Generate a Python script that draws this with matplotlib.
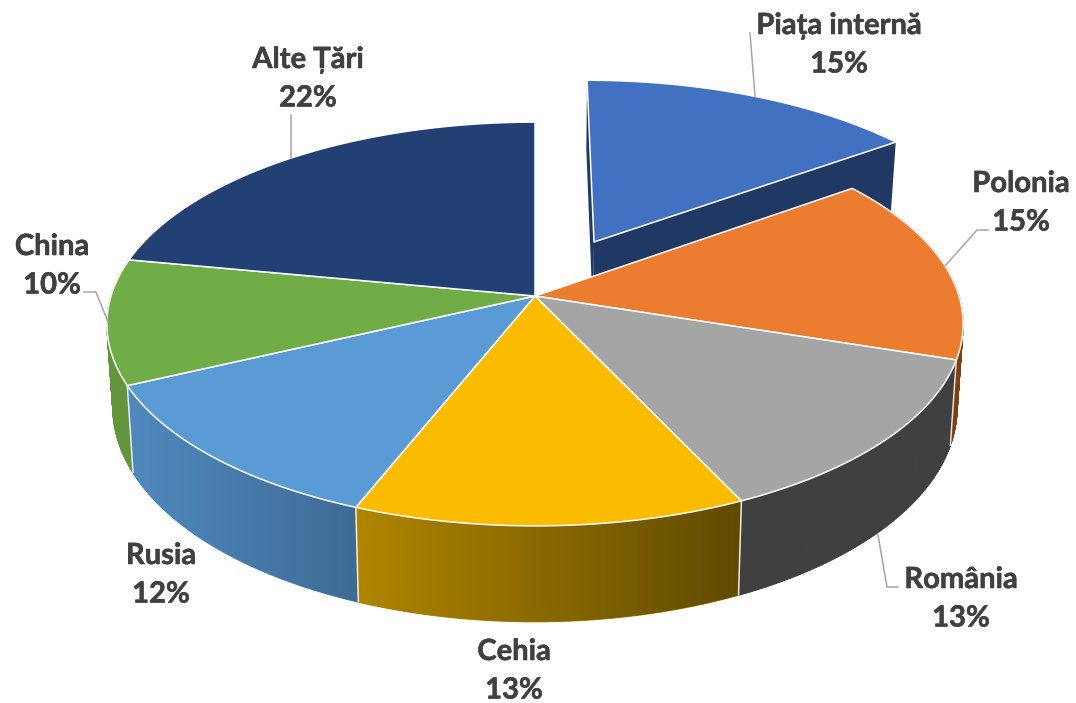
import numpy as np
import matplotlib
matplotlib.use("Agg")
import matplotlib.pyplot as plt
import matplotlib.patheffects as pe
from matplotlib.colors import to_rgb
from matplotlib.patches import Polygon

# data
names = ["Piața internă", "Polonia", "România", "Cehia", "Rusia", "China", "Alte Țări"]
shares = [15, 15, 13, 13, 12, 10, 22]
top_colors = ["#4371C2", "#EB7C30", "#A5A5A5", "#FBBC00", "#5B9BD5", "#70AD47", "#234075"]
# wall colour, left and right end of the gradient
wall_left = ["#203864", "#7F3F0E", "#404040", "#B08600", "#5089BE", "#63953C", "#1C3358"]
wall_right = ["#203864", "#7F3F0E", "#404040", "#5F4A00", "#3E6B95", "#63953C", "#1C3358"]

# layout, in pixels of the 1076x703 picture
label_pos = [(839, 26), (1021, 184), (961, 580), (514, 652), (161, 556), (52, 247), (308, 60)]
line_gap = 38.5
leaders = [
    [(750, 33), (755, 96)],
    [(988, 230), (977, 230), (945, 266)],
    [(878, 535), (887, 587), (898, 587)],
    [],
    [],
    [(84, 292), (96, 292), (108, 322)],
    [(291, 115), (291, 158)],
]
center_x = 535
top_plane = (296, 424, 198)     # y of the centre, half width, half height
bottom_plane = (378, 418, 210)
persp = 0.1386
explode = (0.1446, -0.2834)     # shift of the first slice, in disc units

plt.rcParams["font.family"] = ["Lato", "Open Sans", "DejaVu Sans"]


def project(theta, plane, shift=(0, 0), r=1.0):
    # clockwise degrees from 12 o'clock -> picture pixels
    y0, a, b = plane
    t = np.radians(theta)
    u = r * np.sin(t) + shift[0]
    v = -r * np.cos(t) + shift[1]
    d = 1 - persp * v
    return center_x + a * u / d, y0 + b * v / d


def arc(start, end, plane, shift=(0, 0)):
    t = np.linspace(start, end, 90)
    x, y = project(t, plane, shift)
    return np.column_stack([x, y])


fig = plt.figure(figsize=(10.76, 7.03), dpi=100)
ax = fig.add_axes([0, 0, 1, 1])

angles = np.cumsum([0] + shares) * 3.6
starts = angles[:-1]
ends = angles[1:]

# exploded slice: its two cut faces
apex_top = project(0, top_plane, explode, r=0)
apex_bot = project(0, bottom_plane, explode, r=0)
for a in [starts[0], ends[0]]:
    p_top = project(a, top_plane, explode)
    p_bot = project(a, bottom_plane, explode)
    ax.add_patch(Polygon([apex_top, p_top, p_bot, apex_bot], fc=wall_left[0], ec="none", zorder=1))

# outer walls, back ones first
z = 2
for i in [1, 5, 2, 4, 3]:
    top = arc(starts[i], ends[i], top_plane)
    bot = arc(starts[i], ends[i], bottom_plane)
    # swept quads catch the part of the wall past the silhouette
    for k in range(len(top) - 1):
        ax.add_patch(Polygon([top[k], top[k + 1], bot[k + 1], bot[k]], fc=wall_left[i], ec=wall_left[i],
                             lw=0.8, zorder=z))
    # gradient image clipped to the wall shape
    outline = np.vstack([top, bot[::-1]])
    xmin, xmax = outline[:, 0].min(), outline[:, 0].max()
    ymin, ymax = outline[:, 1].min(), outline[:, 1].max()
    ramp = np.linspace(to_rgb(wall_left[i]), to_rgb(wall_right[i]), 256)[np.newaxis, :, :]
    im = ax.imshow(ramp, extent=(xmin, xmax, ymax, ymin), aspect="auto", interpolation="bilinear", zorder=z + 1)
    shape = Polygon(outline, closed=True, fc="none", ec="none")
    ax.add_patch(shape)
    im.set_clip_path(shape)
    z += 2

# white joints between the walls
for a in [ends[1], ends[2], ends[3], ends[4]]:
    x0, y0 = project(a, top_plane)
    x1, y1 = project(a, bottom_plane)
    ax.plot([x0, x1], [y0, y1], color="white", lw=1.1, alpha=0.85, solid_capstyle="butt", zorder=15)

# tops
for i in range(len(shares)):
    shift = explode if i == 0 else (0, 0)
    apex = project(0, top_plane, shift, r=0)
    pts = np.vstack([[apex], arc(starts[i], ends[i], top_plane, shift)])
    # the exploded slice stays behind the walls and tops of the others
    ax.add_patch(Polygon(pts, closed=True, fc=top_colors[i], ec="white", lw=1.1, joinstyle="round",
                         zorder=1.5 if i == 0 else 20))

# leader lines and labels
stroke = [pe.withStroke(linewidth=0.4, foreground="#404040")]
for i in range(len(names)):
    if leaders[i]:
        xs, ys = zip(*leaders[i])
        ax.plot(xs, ys, color="#A6A6A6", lw=1.1, zorder=25)
    x, y = label_pos[i]
    ax.text(x, y, names[i], ha="center", va="center", fontsize=21, fontweight="bold",
            color="#404040", path_effects=stroke, zorder=30)
    ax.text(x, y + line_gap, "%d%%" % shares[i], ha="center", va="center", fontsize=21,
            fontweight="bold", color="#404040", path_effects=stroke, zorder=30)

ax.set_xlim(0, 1076)
ax.set_ylim(703, 0)
ax.axis("off")

fig.savefig("out.png", dpi=100)
